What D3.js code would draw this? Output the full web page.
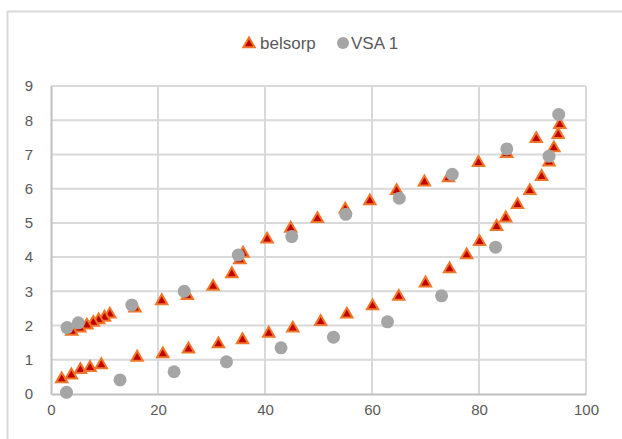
<!DOCTYPE html>
<html>
<head>
<meta charset="utf-8">
<script src="https://cdn.jsdelivr.net/npm/d3@7"></script>
<style>
  body { margin: 0; background: #fff; }
  svg text { font-family: "Liberation Sans", Arial, sans-serif; fill: #595959; }
</style>
</head>
<body>
<svg id="chart" width="622" height="439"></svg>
<script>
// belsorp: adsorption branch then desorption branch
var belsorpX = [2.0, 3.8, 5.5, 7.3, 9.4, 16.1, 20.9, 25.7, 31.3, 35.8, 40.7, 45.2, 50.4, 55.3, 60.1, 65.0,
  70.0, 74.5, 77.7, 80.1, 83.3, 85.0, 87.2, 89.5, 91.7, 93.1, 94.0, 94.8, 95.1,
  90.7, 85.2, 79.9, 74.3, 69.8, 64.6, 59.6, 55.0, 49.8, 44.8, 40.4, 35.9, 35.3, 33.8, 30.3, 25.5, 20.7, 15.7,
  11.0, 10.0, 8.9, 7.9, 6.7, 5.4, 3.9];
var belsorpY = [0.44, 0.55, 0.71, 0.77, 0.85, 1.07, 1.17, 1.31, 1.46, 1.58, 1.77, 1.92, 2.11, 2.33, 2.57, 2.85,
  3.24, 3.65, 4.06, 4.45, 4.89, 5.14, 5.53, 5.94, 6.35, 6.77, 7.19, 7.58, 7.87,
  7.46, 7.02, 6.76, 6.31, 6.19, 5.94, 5.64, 5.40, 5.12, 4.84, 4.52, 4.11, 3.92, 3.51, 3.14, 2.87, 2.72, 2.51,
  2.33, 2.24, 2.16, 2.09, 2.01, 1.92, 1.83];

var vsaX = [2.9, 12.9, 23.0, 32.8, 43.0, 52.8, 62.9, 73.0, 83.1, 93.1, 94.9,
  85.2, 75.0, 65.1, 55.1, 45.0, 35.0, 24.9, 15.1, 5.1, 3.0];
var vsaY = [0.05, 0.41, 0.65, 0.94, 1.35, 1.66, 2.11, 2.87, 4.29, 6.95, 8.17,
  7.16, 6.42, 5.72, 5.25, 4.60, 4.06, 3.00, 2.60, 2.08, 1.94];

var xTicks = [0, 20, 40, 60, 80, 100];
var yTicks = [0, 1, 2, 3, 4, 5, 6, 7, 8, 9];
var seriesNames = ['belsorp', 'VSA 1'];

var svg = d3.select('#chart');
var plotLeft = 51, plotRight = 586, plotTop = 86, plotBottom = 394;

var x = d3.scaleLinear().domain([0, 100]).range([plotLeft, plotRight]);
var y = d3.scaleLinear().domain([0, 9]).range([plotBottom, plotTop]);

// outer chart frame (runs off the right and bottom edge)
svg.append('rect')
  .attr('x', 7.5).attr('y', 11.5)
  .attr('width', 800).attr('height', 600)
  .attr('fill', 'none')
  .attr('stroke', '#d9d9d9')
  .attr('stroke-width', 2);

// gridlines
svg.append('g')
  .selectAll('line')
  .data(yTicks.slice(1))
  .enter()
  .append('line')
  .attr('x1', plotLeft).attr('x2', plotRight)
  .attr('y1', y).attr('y2', y)
  .attr('stroke', '#d9d9d9')
  .attr('stroke-width', 2);
svg.append('g')
  .selectAll('line')
  .data(xTicks.slice(1))
  .enter()
  .append('line')
  .attr('x1', x).attr('x2', x)
  .attr('y1', plotTop).attr('y2', plotBottom)
  .attr('stroke', '#d9d9d9')
  .attr('stroke-width', 2);

// axes
var xAxis = svg.append('g')
  .attr('transform', 'translate(0,' + plotBottom + ')')
  .call(d3.axisBottom(x).tickValues(xTicks).tickSize(0).tickPadding(10));
var yAxis = svg.append('g')
  .attr('transform', 'translate(' + plotLeft + ',0)')
  .call(d3.axisLeft(y).tickValues(yTicks).tickSize(0).tickPadding(18));
[xAxis, yAxis].forEach(function (g) {
  g.select('.domain').attr('stroke', '#bfbfbf').attr('stroke-width', 2);
  g.selectAll('text').style('font-size', '15px').attr('fill', '#595959');
});

var triangle = d3.symbol().type(d3.symbolTriangle).size(56);

function drawTriangle(sel) {
  sel.attr('d', triangle)
    .attr('fill', '#c00000')
    .attr('stroke', '#f07526')
    .attr('stroke-width', 2)
    .attr('stroke-linejoin', 'miter');
}

// belsorp
svg.append('g')
  .selectAll('path')
  .data(d3.range(belsorpX.length))
  .enter()
  .append('path')
  .attr('transform', function (i) { return 'translate(' + x(belsorpX[i]) + ',' + y(belsorpY[i]) + ')'; })
  .call(drawTriangle);

// VSA 1
svg.append('g')
  .selectAll('circle')
  .data(d3.range(vsaX.length))
  .enter()
  .append('circle')
  .attr('cx', function (i) { return x(vsaX[i]); })
  .attr('cy', function (i) { return y(vsaY[i]); })
  .attr('r', 6.5)
  .attr('fill', '#a5a5a5');

// legend
var legend = svg.append('g').attr('transform', 'translate(0,43)');
legend.append('path')
  .attr('transform', 'translate(249,1)')
  .call(drawTriangle);
legend.append('text')
  .attr('x', 260).attr('y', 0)
  .attr('dy', '0.35em')
  .style('font-size', '17px')
  .text(seriesNames[0]);
legend.append('circle')
  .attr('cx', 343).attr('cy', 0)
  .attr('r', 6)
  .attr('fill', '#a5a5a5');
legend.append('text')
  .attr('x', 351).attr('y', 0)
  .attr('dy', '0.35em')
  .style('font-size', '17px')
  .text(seriesNames[1]);
</script>
</body>
</html>
